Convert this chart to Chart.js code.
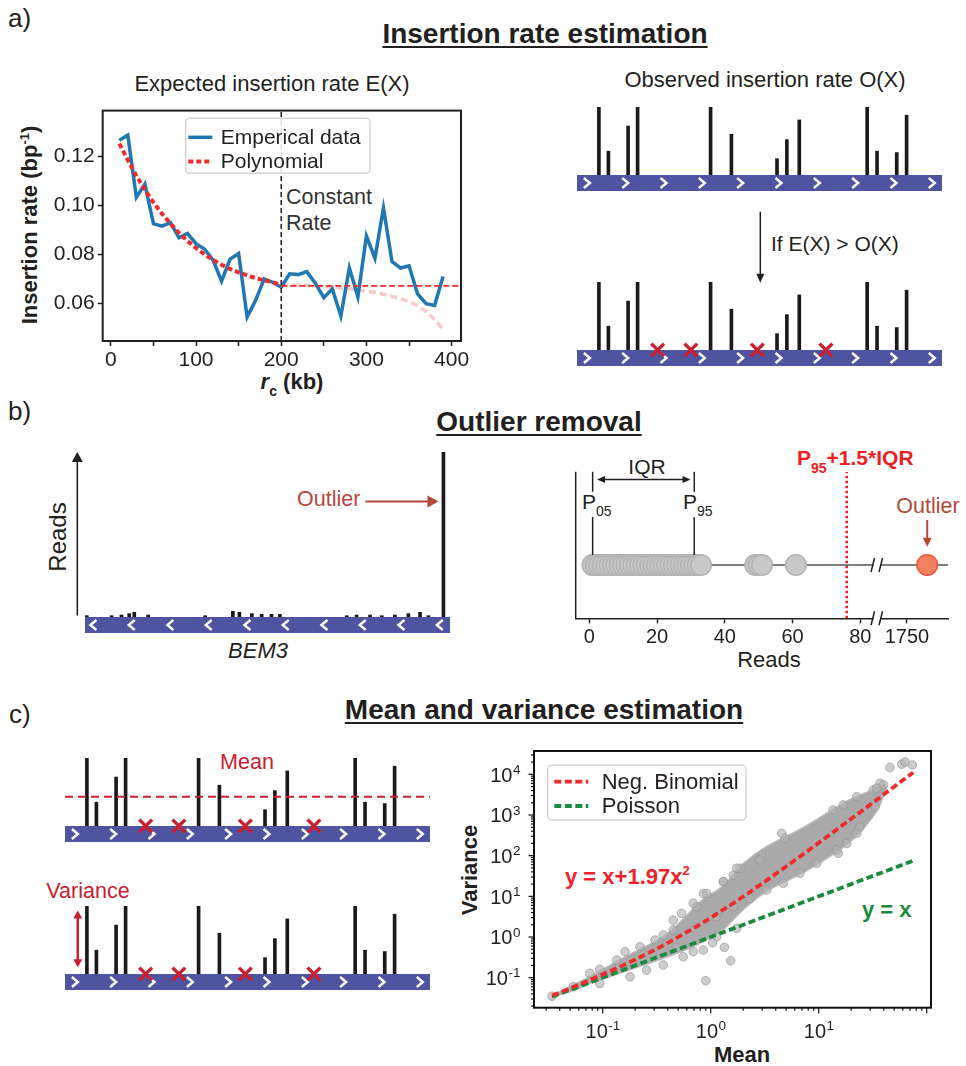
<!DOCTYPE html>
<html>
<head>
<meta charset="utf-8">
<title>Insertion rate, outlier removal and variance estimation</title>
<script src="https://cdn.jsdelivr.net/npm/chart.js@4.4.1/dist/chart.umd.min.js"></script>
<style>
  html, body { margin: 0; padding: 0; background: #fff; }
  #fig { position: relative; width: 966px; height: 1066px; overflow: hidden;
         font-family: "Liberation Sans", Arial, Helvetica, sans-serif; color: #231f20; }
  #fig canvas { position: absolute; }
  .t { position: absolute; white-space: nowrap; line-height: 1; transform: translate(-50%, -50%); }
  .t.l { transform: translate(0, -50%); }
  .t.rot { transform: translate(-50%, -50%) rotate(-90deg); }
  .panel { font-size: 26px; }
  .head { font-size: 28px; font-weight: bold; text-decoration: underline;
          text-decoration-thickness: 2px; text-underline-offset: 3px; }
  .sub { font-size: 22px; }
  .red { color: #c8202f; }
  .brown { color: #b5473a; }
  sub { font-size: 14px; vertical-align: -7px; line-height: 0; }
  sup { font-size: 13px; vertical-align: 8px; line-height: 0; }
</style>
</head>
<body>
<div id="fig">
  <!-- a) -->
  <div class="t l panel" style="left:8px;top:18px">a)</div>
  <div class="t head" style="left:545px;top:34px">Insertion rate estimation</div>
  <div class="t sub" style="left:272px;top:84px">Expected insertion rate E(X)</div>
  <div class="t sub" style="left:765px;top:80px">Observed insertion rate O(X)</div>
  <div class="t l" style="left:771px;top:243px;font-size:21px">If E(X) &gt; O(X)</div>
  <div class="t l" style="left:286px;top:198px;font-size:21.5px;color:#333">Constant</div>
  <div class="t l" style="left:286px;top:224px;font-size:21.5px;color:#333">Rate</div>
  <div class="t rot" style="left:30px;top:225px;font-size:22px;font-weight:bold">Insertion rate (bp<sup>-1</sup>)</div>
  <div class="t" style="left:292px;top:382px;font-size:22px;font-weight:bold"><i>r</i><sub>c</sub> (kb)</div>

  <!-- b) -->
  <div class="t l panel" style="left:8px;top:411px">b)</div>
  <div class="t head" style="left:539px;top:422px">Outlier removal</div>
  <div class="t rot" style="left:58px;top:537px;font-size:24px">Reads</div>
  <div class="t l brown" style="left:297px;top:500px;font-size:21.5px">Outlier</div>
  <div class="t" style="left:258px;top:651px;font-size:22px;font-style:italic">BEM3</div>
  <div class="t" style="left:647px;top:466px;font-size:21px">IQR</div>
  <div class="t l" style="left:582px;top:501px;font-size:21px">P<sub>05</sub></div>
  <div class="t l" style="left:683px;top:501px;font-size:21px">P<sub>95</sub></div>
  <div class="t l" style="left:797px;top:457px;font-size:21px;font-weight:bold;color:#ee1d23">P<sub style="vertical-align:-8px">95</sub>+1.5*IQR</div>
  <div class="t brown" style="left:928px;top:507px;font-size:21.5px">Outlier</div>
  <div class="t" style="left:769px;top:660px;font-size:22px">Reads</div>

  <!-- c) -->
  <div class="t l panel" style="left:9px;top:714px">c)</div>
  <div class="t head" style="left:544px;top:710px">Mean and variance estimation</div>
  <div class="t red" style="left:247px;top:763px;font-size:21.5px">Mean</div>
  <div class="t red" style="left:88px;top:892px;font-size:21.5px">Variance</div>
  <div class="t rot" style="left:470px;top:870px;font-size:22px;font-weight:bold">Variance</div>
  <div class="t" style="left:742px;top:1055px;font-size:22px;font-weight:bold">Mean</div>
  <div id="nbLabel" class="t l" style="left:565px;top:877px;font-size:22px;font-weight:bold;color:#ee2229"></div>
  <div class="t l" style="left:862px;top:910px;font-size:22px;font-weight:bold;color:#1a8a3d">y = x</div>
</div>

<script>
// ---------- a) insertion rate against distance to the centromere ----------
const rcKb = [10, 20, 30, 40, 50, 60, 70, 80, 90, 100, 110, 120, 130, 140, 150, 160, 170, 180, 190, 200,
              210, 220, 230, 240, 250, 260, 270, 280, 290, 300, 310, 320, 330, 340, 350, 360, 370, 380, 390];
const empiricalRate = [0.1264, 0.1285, 0.1032, 0.1086, 0.0925, 0.0915, 0.0929, 0.0868, 0.0885, 0.0844,
                       0.0822, 0.0777, 0.0691, 0.0781, 0.0804, 0.0546, 0.0614, 0.0700, 0.0687, 0.0667,
                       0.0721, 0.0718, 0.0730, 0.0683, 0.0624, 0.0660, 0.0549, 0.0745, 0.0627, 0.0875,
                       0.0785, 0.0989, 0.0771, 0.0745, 0.0754, 0.0640, 0.0600, 0.0593, 0.0710];
const polyKb = [10, 20, 30, 40, 50, 60, 70, 80, 90, 100, 110, 120, 130, 140, 150, 160, 170, 180, 190, 200];
const polyRate = [0.1251, 0.1184, 0.1120, 0.1063, 0.1012, 0.0966, 0.0925, 0.0888, 0.0855, 0.0826,
                  0.0800, 0.0778, 0.0758, 0.0741, 0.0727, 0.0715, 0.0704, 0.0695, 0.0687, 0.0676];
const polyTailKb = [200, 210, 220, 230, 240, 250, 260, 270, 280, 290, 300, 310, 320, 330, 340, 350, 360, 370, 380, 390];
const polyTailRate = [0.0676, 0.0676, 0.0675, 0.0674, 0.0672, 0.0670, 0.0667, 0.0664, 0.0660, 0.0656,
                      0.0651, 0.0645, 0.0638, 0.0630, 0.0620, 0.0608, 0.0592, 0.0568, 0.0535, 0.0495];
const constantFromKb = 200;
const constantRate = 0.0672;

// insertion sites along a gene (0..1000) and their reads, relative units
const insertPos = [60, 86, 140, 166, 366, 423, 548, 575, 609, 795, 822, 876, 903];
const insertReads = [10, 3.5, 7.2, 10, 10, 6, 2.4, 5.2, 8.1, 10, 3.5, 3.3, 8.8];
const removedPos = [221, 312, 494, 682];
const meanReads = 4.3;

// ---------- b) reads per insertion in BEM3 ----------
const bem3Pos = [5, 73, 100, 121, 135, 173, 329, 405, 423, 457, 484, 511, 534, 717, 744, 781, 813, 849, 886, 918, 941, 982];
const bem3Reads = [14, 14, 21, 36, 50, 21, 14, 61, 50, 36, 28, 28, 28, 14, 21, 21, 14, 21, 36, 50, 14, 1756];
const readDist = [1, 1, 2, 2, 3, 4, 4, 5, 6, 7, 8, 9, 10, 11, 12, 13, 14, 15, 16, 17, 18, 19, 20,
                  21, 22, 23, 24, 25, 26, 27, 28, 29, 30, 31, 32, 33, 49, 50, 51, 61];
const outlierReads = 1756;
const p05 = 1, p95 = 31;

// ---------- c) mean vs variance per gene ----------
const cloudMean    = [0.034, 0.05, 0.08, 0.12, 0.18, 0.3, 0.42, 0.6, 0.85, 1.3, 2.0, 3.3, 6.8, 13.5, 19.5, 27.5, 34.7, 42];
const cloudVarHigh = [0.035, 0.058, 0.11, 0.2, 0.36, 0.72, 1.3, 3.2, 8.0, 17, 60, 160, 430, 1300, 2300, 3400, 4500, 5600];
const cloudVarLow  = [0.035, 0.048, 0.08, 0.115, 0.165, 0.26, 0.36, 0.52, 0.8, 1.6, 5.0, 14, 37, 112, 230, 600, 1400, 5000];
const edgePoints = [
  [0.034, 0.035], [0.0535, 0.060], [0.076, 0.128], [0.094, 0.160], [0.135, 0.272], [0.161, 0.435],
  [0.221, 0.577], [0.305, 0.843], [0.364, 1.12], [0.451, 1.49], [0.538, 3.82], [0.742, 5.56],
  [0.855, 11.7], [1.31, 22.9], [1.62, 33], [0.094, 0.072], [0.179, 0.105], [0.255, 0.154],
  [0.364, 0.205], [0.557, 0.328], [0.69, 0.435], [0.855, 0.479], [1.04, 0.724], [1.34, 0.557],
  [1.53, 0.261], [0.90, 0.084], [0.484, 0.557], [1.14, 1.02], [1.74, 1.64], [1.87, 49],
  [2.97, 104], [4.54, 355], [4.88, 267], [15.2, 115], [14.7, 138], [2.86, 78], [13.6, 1320],
  [16.9, 1770], [22.5, 2820], [32, 4110], [37, 6030], [33.2, 1590], [24.1, 513], [22.5, 355],
  [18.2, 200], [9.6, 65], [6.7, 37], [4.7, 21], [3.3, 14.3], [2.31, 8.9], [1.62, 5.6], [1.14, 3.16],
  [45.7, 14800], [58.6, 17800], [63, 20000], [73.6, 17000], [34.4, 4570], [39.8, 5500],
  [1.74, 49], [0.69, 6.8], [1.31, 23], [0.45, 2.6], [0.92, 11.7]
];
const fitMean = [0.034, 0.05, 0.075, 0.1, 0.15, 0.2, 0.3, 0.45, 0.7, 1, 1.5, 2.2, 3.3, 5, 8, 13, 20, 32, 50, 75];
const nbAlpha = 1.97;

// ---------- shared setup ----------
const FONT = '"Liberation Sans", Arial, Helvetica, sans-serif';
Chart.defaults.font.family = FONT;
Chart.defaults.color = '#231f20';
Chart.defaults.animation = false;
Chart.defaults.responsive = false;
Chart.defaults.maintainAspectRatio = false;
Chart.defaults.devicePixelRatio = 1;
Chart.defaults.events = [];
Chart.defaults.plugins.legend.display = false;
Chart.defaults.plugins.tooltip.enabled = false;

const INK = '#231f20';
const CRIMSON = '#c8202f';
const BROWN = '#b5473a';
const geneLength = 1000;

function place(id, left, top, w, h) {
  const c = document.createElement('canvas');
  c.id = id;
  c.width = w; c.height = h;
  c.style.left = left + 'px'; c.style.top = top + 'px';
  c.style.width = w + 'px'; c.style.height = h + 'px';
  document.getElementById('fig').appendChild(c);
  return c;
}

function arrow(ctx, x0, y0, x1, y1, s) {
  const ang = Math.atan2(y1 - y0, x1 - x0);
  const cos = Math.cos(ang), sin = Math.sin(ang);
  const back = s.len * 0.8;
  ctx.save();
  ctx.strokeStyle = ctx.fillStyle = s.color;
  ctx.lineWidth = s.lw;
  ctx.beginPath();
  ctx.moveTo(s.both ? x0 + cos * back : x0, s.both ? y0 + sin * back : y0);
  ctx.lineTo(x1 - cos * back, y1 - sin * back);
  ctx.stroke();
  const tip = (x, y, c, sn) => {
    ctx.beginPath();
    ctx.moveTo(x, y);
    ctx.lineTo(x - s.len * c + s.half * sn, y - s.len * sn - s.half * c);
    ctx.lineTo(x - s.len * c - s.half * sn, y - s.len * sn + s.half * c);
    ctx.closePath();
    ctx.fill();
  };
  tip(x1, y1, cos, sin);
  if (s.both) tip(x0, y0, -cos, -sin);
  ctx.restore();
}

function seg(ctx, x0, y0, x1, y1) {
  ctx.beginPath(); ctx.moveTo(x0, y0); ctx.lineTo(x1, y1); ctx.stroke();
}

// box around the plot area, or only some of its sides
const framePlugin = {
  id: 'frame',
  afterDatasetsDraw(chart, args, o) {
    if (!o.sides) return;
    const { ctx, chartArea: a } = chart;
    ctx.save();
    ctx.strokeStyle = o.color || INK;
    ctx.lineWidth = o.width || 1.5;
    if (o.sides === 'box') {
      ctx.strokeRect(a.left, a.top, a.right - a.left, a.bottom - a.top);
    } else if (o.sides === 'left') {
      seg(ctx, a.left, a.top, a.left, a.bottom);
    }
    ctx.restore();
  }
};

// legend drawn in a rounded box inside the plot area
const boxLegend = {
  id: 'boxLegend',
  afterDraw(chart, args, o) {
    if (!o.rows) return;
    const { ctx, chartArea: a } = chart;
    const bx = a.left + o.x, by = a.top + o.y;
    ctx.save();
    ctx.beginPath();
    if (ctx.roundRect) ctx.roundRect(bx, by, o.w, o.h, 4); else ctx.rect(bx, by, o.w, o.h);
    ctx.fillStyle = 'rgba(255,255,255,0.85)';
    ctx.fill();
    ctx.strokeStyle = '#d3d3d3';
    ctx.lineWidth = 1.5;
    ctx.stroke();
    ctx.font = o.size + 'px ' + FONT;
    ctx.textBaseline = 'middle';
    o.rows.forEach((idx, i) => {
      const ds = chart.data.datasets[idx];
      const y = by + o.y0 + i * o.dy;
      ctx.setLineDash(ds.borderDash || []);
      ctx.strokeStyle = ds.borderColor;
      ctx.lineWidth = ds.borderWidth;
      seg(ctx, bx + o.s0, y, bx + o.s1, y);
      ctx.setLineDash([]);
      ctx.fillStyle = INK;
      ctx.fillText(ds.label, bx + o.tx, y + 1);
    });
    ctx.restore();
  }
};

// blue gene body with strand chevrons, drawn under the insertion bars
const chevronsFwd = [27, 132, 237, 342, 447, 552, 657, 762, 867, 972];
const chevronsRev = [23, 128, 234, 339, 445, 550, 656, 761, 867, 972];
const genePlugin = {
  id: 'gene',
  beforeDatasetsDraw(chart, args, o) {
    const { ctx, scales: { x, y } } = chart;
    const top = y.getPixelForValue(0);
    const x0 = x.getPixelForValue(0), x1 = x.getPixelForValue(geneLength);
    const h = 16;
    ctx.save();
    ctx.fillStyle = '#4f54a0';
    ctx.fillRect(x0, top, x1 - x0, h);
    ctx.strokeStyle = '#fff';
    ctx.lineWidth = 2.4;
    const s = o.dir === 'rev' ? -1 : 1;
    (o.dir === 'rev' ? chevronsRev : chevronsFwd).forEach(p => {
      const cx = x.getPixelForValue(p), cy = top + h / 2;
      ctx.beginPath();
      ctx.moveTo(cx - 3 * s, cy - 5);
      ctx.lineTo(cx + 3 * s, cy);
      ctx.lineTo(cx - 3 * s, cy + 5);
      ctx.stroke();
    });
    ctx.restore();
  }
};

// arrows attached to the gene tracks
const notesPlugin = {
  id: 'notes',
  afterDatasetsDraw(chart, args, o) {
    const { ctx, chartArea: a, scales: { x, y } } = chart;
    if (o.varArrow) {
      const px = x.getPixelForValue(o.varArrow.at);
      arrow(ctx, px, y.getPixelForValue(o.varArrow.from), px, y.getPixelForValue(o.varArrow.to),
            { color: CRIMSON, lw: 2.5, len: 8, half: 4.5, both: true });
    }
    if (o.readsAxis) {
      arrow(ctx, a.left - 7.7, a.bottom - 1.5, a.left - 7.7, a.top,
            { color: INK, lw: 1.6, len: 10, half: 5.5 });
    }
    if (o.outlierAt != null) {
      const xo = x.getPixelForValue(o.outlierAt), yy = y.getPixelForValue(o.outlierLevel);
      arrow(ctx, xo - 78, yy, xo - 5, yy, { color: BROWN, lw: 2, len: 11, half: 6 });
    }
  }
};

function geneTrack(id, g) {
  const padL = 30, padR = 15, padT = 14, padB = 24, width = 365;
  const cv = place(id, g.left - padL, g.base - g.px - padT, width + padL + padR, g.px + padT + padB);
  const datasets = [{
    type: 'bar',
    data: g.pos.map((p, i) => ({ x: p, y: g.reads[i] })),
    backgroundColor: '#1a1a1a',
    barThickness: 3,
    order: 2
  }];
  if (g.removed) {
    datasets.push({
      type: 'scatter',
      data: g.removed.map(p => ({ x: p, y: 0 })),
      pointStyle: 'crossRot', pointRadius: 9, borderWidth: 3.5,
      borderColor: CRIMSON, backgroundColor: CRIMSON, clip: false, order: 0
    });
  }
  if (g.mean != null) {
    datasets.push({
      type: 'line',
      data: [{ x: 0, y: g.mean }, { x: geneLength, y: g.mean }],
      borderColor: CRIMSON, borderWidth: 2, borderDash: [8, 5], pointRadius: 0, order: 1
    });
  }
  return new Chart(cv, {
    type: 'bar',
    data: { datasets },
    options: {
      layout: { padding: { left: padL, right: padR, top: padT, bottom: padB } },
      scales: {
        x: { type: 'linear', min: 0, max: geneLength, offset: false, display: false },
        y: { min: 0, max: g.yMax, display: false }
      },
      plugins: { gene: { dir: g.dir }, notes: g.notes || {} }
    },
    plugins: [genePlugin, notesPlugin]
  });
}

// ---------- a) expected insertion rate ----------
const rateMin = 0.0448, rateMax = 0.1385, kbMin = -9.5, kbMax = 411;
new Chart(place('rateChart', 0, 95, 475, 305), {
  type: 'line',
  data: {
    datasets: [
      { label: 'Emperical data', data: rcKb.map((x, i) => ({ x, y: empiricalRate[i] })),
        borderColor: '#1f77b4', borderWidth: 3.5, order: 2 },
      { label: 'Polynomial', data: polyKb.map((x, i) => ({ x, y: polyRate[i] })),
        borderColor: '#ef2b2d', borderWidth: 4, borderDash: [5, 3], order: 1 },
      { label: 'Polynomial (beyond 200 kb)', data: polyTailKb.map((x, i) => ({ x, y: polyTailRate[i] })),
        borderColor: '#f8c9c9', borderWidth: 3.5, borderDash: [7, 4], order: 3 },
      { label: 'Constant rate', data: [{ x: constantFromKb, y: constantRate }, { x: kbMax, y: constantRate }],
        borderColor: '#ef2b2d', borderWidth: 1.6, borderDash: [6, 3], order: 1 },
      { label: 'cut-off', data: [{ x: constantFromKb, y: rateMin }, { x: constantFromKb, y: rateMax }],
        borderColor: INK, borderWidth: 1.5, borderDash: [5, 3], order: 0 }
    ]
  },
  options: {
    layout: { padding: { top: 13.3, right: 14 } },
    elements: { point: { radius: 0 }, line: { tension: 0 } },
    scales: {
      x: {
        type: 'linear', min: kbMin, max: kbMax,
        afterBuildTicks: s => { s.ticks = [0, 50, 100, 150, 200, 250, 300, 350, 400].map(v => ({ value: v })); },
        afterFit: s => { s.height = 59; },
        grid: { drawOnChartArea: false, tickLength: 5, tickWidth: 1.5, tickColor: INK },
        border: { display: false },
        ticks: { font: { size: 21 }, padding: 2, maxRotation: 0, autoSkip: false,
                 callback: v => (v % 100 === 0 ? String(v) : '') }
      },
      y: {
        min: rateMin, max: rateMax,
        afterBuildTicks: s => { s.ticks = [0.06, 0.08, 0.10, 0.12].map(v => ({ value: v })); },
        afterFit: s => { s.width = 102.7; },
        grid: { drawOnChartArea: false, tickLength: 5, tickWidth: 1.5, tickColor: INK },
        border: { display: false },
        ticks: { font: { size: 21 }, padding: 3, callback: v => v.toFixed(2) }
      }
    },
    plugins: {
      frame: { sides: 'box', width: 2 },
      boxLegend: { rows: [0, 1], x: 83, y: 7.7, w: 184.3, h: 55, y0: 19, dy: 24.3,
                   s0: 2.6, s1: 26.6, tx: 35, size: 21 }
    }
  },
  plugins: [framePlugin, boxLegend]
});

// ---------- a) observed insertions before and after filling ----------
geneTrack('observedTrack', { left: 577, base: 175, px: 68, yMax: 10, pos: insertPos, reads: insertReads, dir: 'fwd' });
geneTrack('filteredTrack', { left: 577, base: 350, px: 68, yMax: 10, pos: insertPos, reads: insertReads,
                             removed: removedPos, dir: 'fwd' });
(function () {
  const cv = place('ifArrow', 750, 205, 22, 82);
  arrow(cv.getContext('2d'), 10.3, 6.7, 10.3, 77.7, { color: INK, lw: 1.5, len: 9, half: 4 });
})();

// ---------- b) reads along BEM3 ----------
geneTrack('bem3Track', {
  left: 85, base: 617, px: 165, yMax: outlierReads, pos: bem3Pos, reads: bem3Reads, dir: 'rev',
  notes: { readsAxis: true, outlierAt: bem3Pos[bem3Pos.length - 1], outlierLevel: outlierReads * 0.7 }
});

// ---------- b) read distribution with broken axis ----------
const lowMin = -4, lowMax = 84.8, highMin = 1741, highMax = 1762.2;
const threshold = p95 + 1.5 * (p95 - p05);
const dotNotes = {
  id: 'dotNotes',
  afterDraw(chart) {
    const { ctx, chartArea: a, scales } = chart;
    const xs = scales.x, xh = scales.xHigh;
    const y0 = scales.y.getPixelForValue(0);
    ctx.save();
    ctx.strokeStyle = INK;
    ctx.lineWidth = 1.5;
    seg(ctx, a.left, a.top, a.left, a.bottom);
    [p05, p95].forEach(p => {
      const px = xs.getPixelForValue(p);
      seg(ctx, px, a.top, px, a.top + 20);
      seg(ctx, px, a.top + 45.3, px, y0 - 10);
    });
    arrow(ctx, xs.getPixelForValue(p05) + 4.4, a.top + 7.6, xs.getPixelForValue(p95) - 3.7, a.top + 7.6,
          { color: INK, lw: 1.5, len: 8, half: 3.5, both: true });
    const bx = xh.left;
    [y0, a.bottom].forEach(yy => {
      ctx.fillStyle = '#fff';
      ctx.fillRect(bx - 3, yy - 3, 7, 6);
      ctx.strokeStyle = INK;
      ctx.lineWidth = 1.5;
      seg(ctx, bx - 5.5, yy + 7, bx - 2, yy - 7);
      seg(ctx, bx + 2.5, yy + 7, bx + 6, yy - 7);
    });
    const xo = xh.getPixelForValue(outlierReads);
    arrow(ctx, xo, y0 - 45, xo, y0 - 18.3, { color: BROWN, lw: 2, len: 9, half: 4.5 });
    ctx.restore();
  }
};
const axisTicks = { font: { size: 20 }, padding: 2, maxRotation: 0, autoSkip: false, callback: v => String(v) };
const axisGrid = { drawOnChartArea: false, tickLength: 5, tickWidth: 1.5, tickColor: INK };
new Chart(place('readsDots', 560, 460, 400, 215), {
  type: 'scatter',
  data: {
    datasets: [
      { type: 'line', data: [{ x: 0, y: 0 }, { x: lowMax, y: 0 }], xAxisID: 'x',
        borderColor: '#555', borderWidth: 1.5, pointRadius: 0, order: 3 },
      { type: 'line', data: [{ x: highMin, y: 0 }, { x: highMax, y: 0 }], xAxisID: 'xHigh',
        borderColor: '#555', borderWidth: 1.5, pointRadius: 0, order: 3 },
      { data: readDist.map(r => ({ x: r, y: 0 })), xAxisID: 'x', pointRadius: 10.3,
        backgroundColor: '#c8c8c8', borderColor: '#b3b3b3', borderWidth: 1.5, clip: false, order: 1 },
      { data: [{ x: outlierReads, y: 0 }], xAxisID: 'xHigh', pointRadius: 10.3,
        backgroundColor: '#f1815f', borderColor: '#e9573d', borderWidth: 1.5, clip: false, order: 1 },
      { type: 'line', data: [{ x: threshold, y: -1 }, { x: threshold, y: 1.75 }], xAxisID: 'x',
        borderColor: '#ee1d23', borderWidth: 2.5, borderDash: [2.5, 2.5], pointRadius: 0, order: 2 }
    ]
  },
  options: {
    layout: { padding: { left: 15.7, top: 11.7, right: 10 } },
    scales: {
      x: {
        type: 'linear', position: 'bottom', stack: 'reads', stackWeight: 302.3, min: lowMin, max: lowMax,
        afterBuildTicks: s => { s.ticks = [0, 20, 40, 60, 80].map(v => ({ value: v })); },
        afterFit: s => { s.height = 56.7; },
        grid: axisGrid, border: { color: INK, width: 1.5 }, ticks: axisTicks
      },
      xHigh: {
        type: 'linear', position: 'bottom', stack: 'reads', stackWeight: 72, min: highMin, max: highMax,
        afterBuildTicks: s => { s.ticks = [{ value: 1750 }]; },
        afterFit: s => { s.height = 56.7; },
        grid: axisGrid, border: { color: INK, width: 1.5 }, ticks: axisTicks
      },
      y: { min: -1, max: 1.75, display: false }
    }
  },
  plugins: [dotNotes]
});

// ---------- c) mean and variance ----------
geneTrack('meanTrack', { left: 65, base: 826, px: 68, yMax: 10, pos: insertPos, reads: insertReads,
                         removed: removedPos, mean: meanReads, dir: 'fwd' });
geneTrack('varTrack', { left: 65, base: 974, px: 68, yMax: 10, pos: insertPos, reads: insertReads,
                        removed: removedPos, dir: 'fwd',
                        notes: { varArrow: { at: 35, from: 1.0, to: 9.35 } } });

const decade = v => {
  const e = Math.log10(v);
  return Math.abs(e - Math.round(e)) < 1e-9 ? Math.round(e) : null;
};
function logTicks(scale) {
  const t = [];
  for (let e = -3; e <= 5; e++) {
    for (let m = 1; m < 10; m++) {
      const v = m * Math.pow(10, e);
      if (v >= scale.min && v <= scale.max) t.push({ value: v });
    }
  }
  scale.ticks = t;
}
// tick marks (long on decades, short in between) and "10^n" labels with a raised exponent
function powerLabel(ctx, e, x, baseline, align) {
  ctx.font = '20px ' + FONT;
  const wb = ctx.measureText('10').width;
  ctx.font = '13.5px ' + FONT;
  const ex = String(e);
  const we = ctx.measureText(ex).width;
  const left = align === 'right' ? x - wb - we : x - (wb + we) / 2;
  ctx.textAlign = 'left';
  ctx.textBaseline = 'alphabetic';
  ctx.font = '20px ' + FONT;
  ctx.fillText('10', left, baseline);
  ctx.font = '13.5px ' + FONT;
  ctx.fillText(ex, left + wb + 0.5, baseline - 7.5);
}
const logMarks = {
  id: 'logMarks',
  afterDraw(chart, args, o) {
    const { ctx, chartArea: a, scales: { x, y } } = chart;
    ctx.save();
    ctx.strokeStyle = '#111';
    ctx.lineWidth = 1.2;
    ctx.fillStyle = INK;
    x.ticks.forEach(t => {
      const px = x.getPixelForValue(t.value), e = decade(t.value);
      seg(ctx, px, a.bottom, px, a.bottom + (e !== null ? 5.5 : 3));
      if (e !== null && e <= o.xLabelMax) powerLabel(ctx, e, px, a.bottom + 30, 'center');
    });
    y.ticks.forEach(t => {
      const py = y.getPixelForValue(t.value), e = decade(t.value);
      seg(ctx, a.left - (e !== null ? 5.5 : 3), py, a.left, py);
      if (e !== null) powerLabel(ctx, e, a.left - 14, py + 7.2, 'right');
    });
    ctx.restore();
  }
};

const nbCurve = fitMean.map(m => ({ x: m, y: m + nbAlpha * m * m }));
const poissonCurve = fitMean.map(m => ({ x: m, y: m }));
document.getElementById('nbLabel').innerHTML = 'y = x+' + nbAlpha + 'x<sup style="vertical-align:9px">2</sup>';

new Chart(place('meanVar', 455, 740, 490, 326), {
  type: 'scatter',
  data: {
    datasets: [
      { type: 'line', label: 'genes (upper)', data: cloudMean.map((m, i) => ({ x: m, y: cloudVarHigh[i] })),
        fill: '+1', backgroundColor: '#aaaaaa', borderColor: 'rgba(168,168,168,0.8)', borderWidth: 3,
        pointRadius: 0, tension: 0.35, order: 5 },
      { type: 'line', label: 'genes (lower)', data: cloudMean.map((m, i) => ({ x: m, y: cloudVarLow[i] })),
        fill: false, borderColor: 'rgba(168,168,168,0.8)', borderWidth: 3, pointRadius: 0, tension: 0.35, order: 5 },
      { label: 'genes', data: edgePoints.map(([m, v]) => ({ x: m, y: v })), pointRadius: 4.3,
        backgroundColor: 'rgba(178,178,178,0.65)', borderColor: 'rgba(150,150,150,0.7)', borderWidth: 1, order: 4 },
      { type: 'line', label: 'Neg. Binomial', data: nbCurve, borderColor: '#ee2b2b', borderWidth: 3.8,
        borderDash: [7, 3.5], pointRadius: 0, order: 0 },
      { type: 'line', label: 'Poisson', data: poissonCurve, borderColor: '#1a8a3d', borderWidth: 3.8,
        borderDash: [7, 3.5], pointRadius: 0, order: 1 }
    ]
  },
  options: {
    layout: { padding: { top: 11, right: 14 } },
    scales: {
      x: {
        type: 'logarithmic', min: 0.02312, max: 109.6,
        afterBuildTicks: logTicks,
        afterFit: s => { s.height = 58.3; },
        grid: { display: false }, border: { display: false },
        ticks: { display: false }
      },
      y: {
        type: 'logarithmic', min: 0.01828, max: 37500,
        afterBuildTicks: logTicks,
        afterFit: s => { s.width = 79; },
        grid: { display: false }, border: { display: false },
        ticks: { display: false }
      }
    },
    plugins: {
      frame: { sides: 'box', width: 2, color: '#111' },
      logMarks: { xLabelMax: 1 },
      boxLegend: { rows: [3, 4], x: 13.7, y: 14.3, w: 198.3, h: 54.7, y0: 16.4, dy: 24.3,
                   s0: 6.6, s1: 40.6, tx: 54, size: 22 }
    }
  },
  plugins: [framePlugin, logMarks, boxLegend]
});
</script>
</body>
</html>
